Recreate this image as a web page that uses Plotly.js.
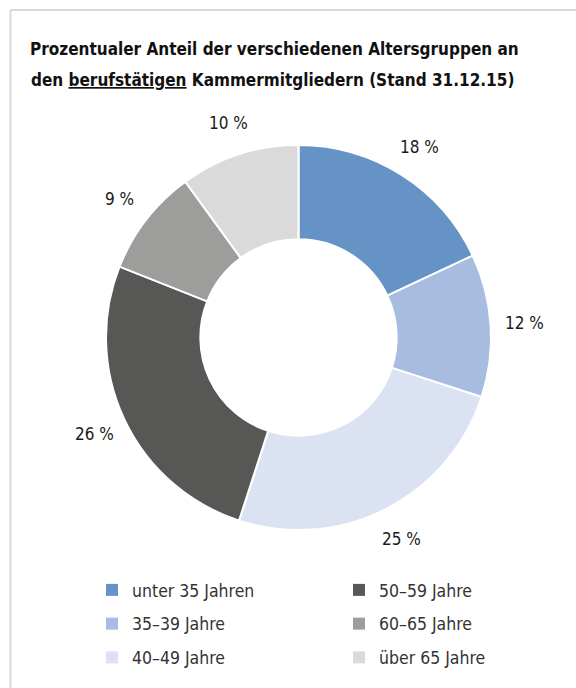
<!DOCTYPE html>
<html>
<head>
<meta charset="utf-8">
<script src="https://cdn.plot.ly/plotly-3.0.1.min.js"></script>
<style>html,body{margin:0;padding:0;background:#fff;}#chart{width:576px;height:688px;}</style>
</head>
<body>
<div id="chart"></div>
<script>
// ---- data ----
const categories = ["unter 35 Jahren", "35–39 Jahre", "40–49 Jahre", "50–59 Jahre", "60–65 Jahre", "über 65 Jahre"];
const shares = [18, 12, 25, 26, 9, 10];
const colors = ["#6693c5", "#a8bcdf", "#dbe2f2", "#575756", "#9d9d9c", "#dadada"];
const legendColumn = ["legend", "legend", "legend", "legend2", "legend2", "legend2"];
const titleLine1 = "<b>Prozentualer Anteil der verschiedenen Altersgruppen an</b>";
const titleLine2 = "<b>den <u>berufstätigen</u> Kammermitgliedern (Stand 31.12.15)</b>";

// ---- layout constants ----
const W = 576, H = 688;
const cx = 298.5, cy = 337.5, R = 192.5;
const labelR = 226;
const FONT = "'DejaVu Sans Condensed', 'Liberation Sans Narrow', Roboto, sans-serif";

const traces = [];
// legend-only helper pies (hidden beneath the main donut) so the legend can be laid out in two columns
categories.forEach((c, i) => {
  traces.push({
    type: "pie",
    labels: [c],
    values: [1],
    marker: {colors: [colors[i]], line: {width: 0}},
    textinfo: "none",
    hoverinfo: "skip",
    sort: false,
    legend: legendColumn[i],
    legendgroup: "g" + i,
    showlegend: true,
    domain: {x: [0.29, 0.292], y: [0.42, 0.422]}
  });
});
// main donut
traces.push({
  type: "pie",
  labels: categories,
  values: shares,
  hole: 0.51,
  sort: false,
  direction: "clockwise",
  rotation: 0,
  marker: {colors: colors, line: {color: "#ffffff", width: 2}},
  textinfo: "none",
  hovertemplate: "%{label}: %{value} %<extra></extra>",
  showlegend: false,
  domain: {x: [(cx - R) / W, (cx + R) / W], y: [(H - cy - R) / H, (H - cy + R) / H]}
});

// value labels placed outside each slice at its mid-angle
const total = shares.reduce((a, b) => a + b, 0);
let cum = 0;
const annotations = shares.map((v) => {
  const mid = (cum + v / 2) / total * 2 * Math.PI;
  cum += v;
  const px = cx + labelR * Math.sin(mid);
  const py = cy - labelR * Math.cos(mid);
  return {
    xref: "paper", yref: "paper",
    x: px / W, y: (H - py) / H,
    xanchor: "center", yanchor: "middle",
    text: v + " %",
    showarrow: false,
    font: {family: FONT, size: 17, color: "#1a1a1a"}
  };
});
// second title line
annotations.push({
  xref: "paper", yref: "paper",
  x: 29 / W, y: 1 - 80 / H,
  xanchor: "left", yanchor: "middle",
  text: titleLine2, showarrow: false,
  font: {family: FONT, size: 17, color: "#111111"}
});

const legendCommon = {
  orientation: "v",
  traceorder: "grouped",
  tracegroupgap: 8,
  font: {family: FONT, size: 17.5, color: "#333333"},
  bgcolor: "rgba(0,0,0,0)",
  xanchor: "left", yanchor: "top",
  itemclick: false, itemdoubleclick: false
};

const layout = {
  width: W, height: H,
  margin: {l: 0, r: 0, t: 0, b: 0},
  paper_bgcolor: "#ffffff",
  title: {
    text: titleLine1,
    font: {family: FONT, size: 17, color: "#111111"},
    xref: "container", yref: "container",
    x: 30 / W, xanchor: "left",
    y: 1 - 43 / H, yanchor: "top"
  },
  legend: Object.assign({}, legendCommon, {x: 92 / W, y: 1 - 572 / H}),
  legend2: Object.assign({}, legendCommon, {x: 339 / W, y: 1 - 572 / H}),
  annotations: annotations,
  shapes: [
    {type: "line", xref: "paper", yref: "paper", x0: 10 / W, x1: 1, y0: 1 - 10 / H, y1: 1 - 10 / H, line: {color: "#d9d9d9", width: 2}},
    {type: "line", xref: "paper", yref: "paper", x0: 10.5 / W, x1: 10.5 / W, y0: 0, y1: 1 - 10 / H, line: {color: "#d9d9d9", width: 2}}
  ],
  showlegend: true
};

Plotly.newPlot("chart", traces, layout, {displayModeBar: false});
</script>
</body>
</html>
